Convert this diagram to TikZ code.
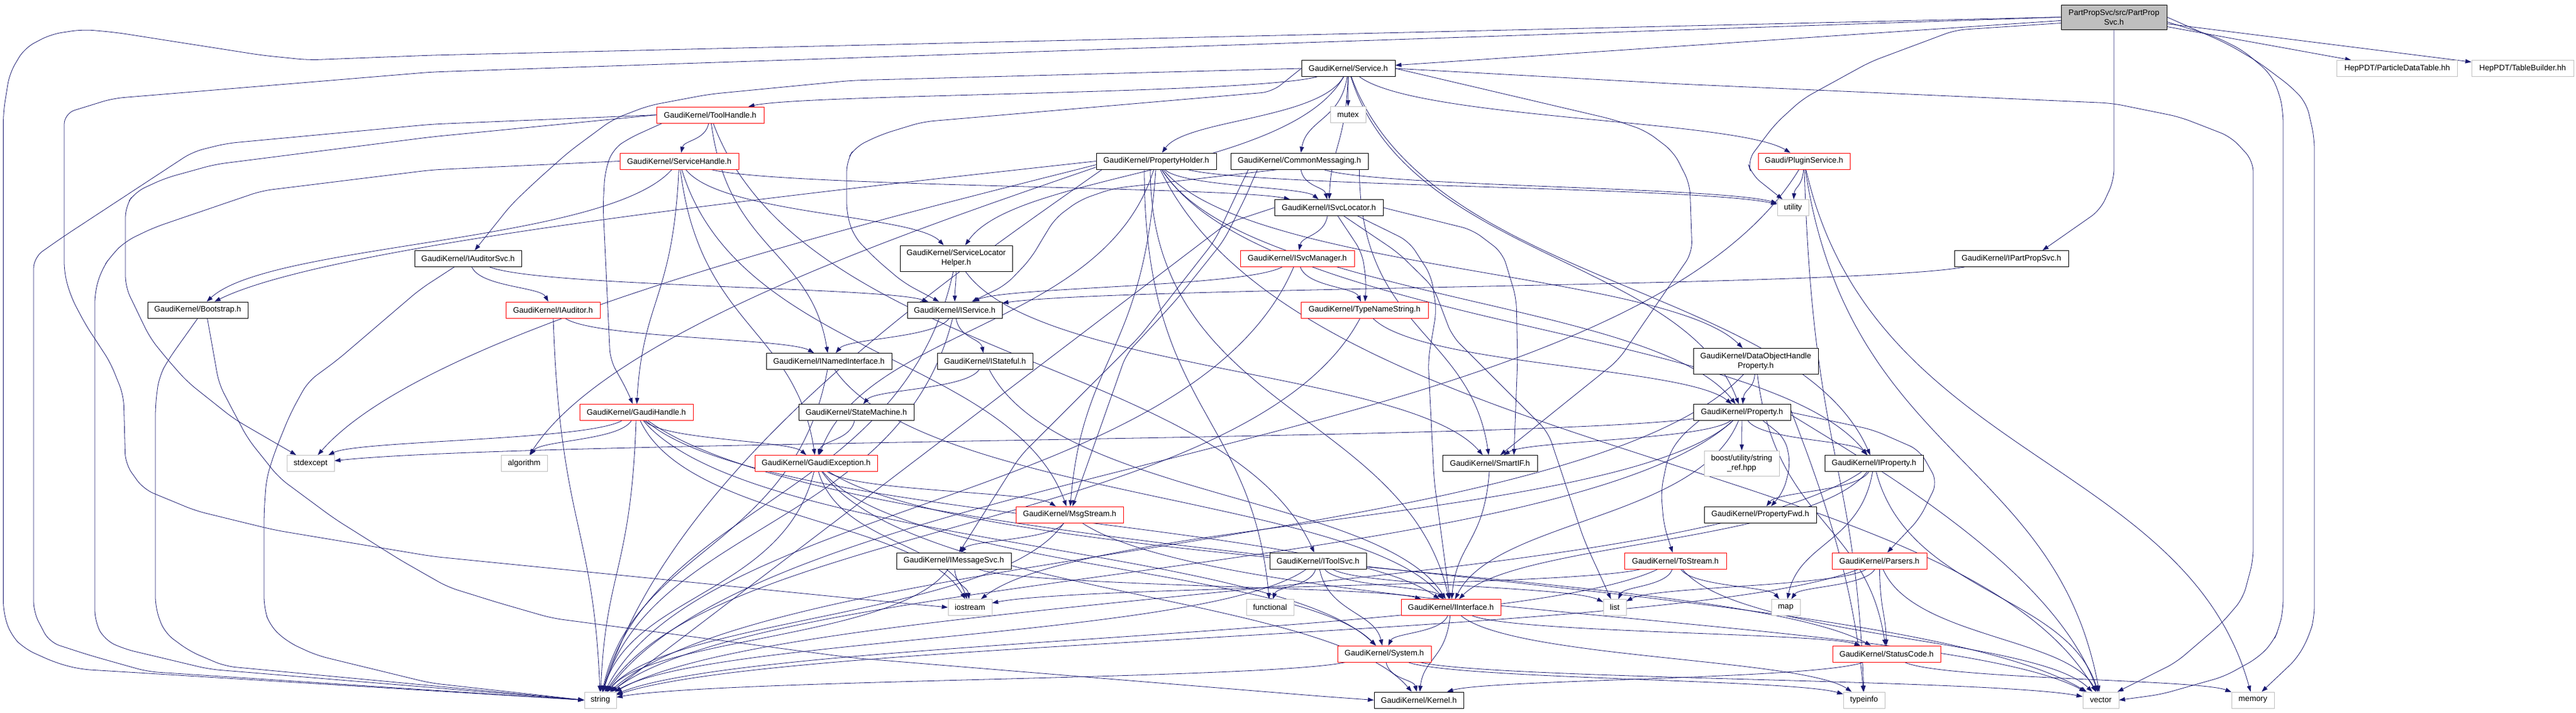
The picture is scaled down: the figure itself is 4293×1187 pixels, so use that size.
\documentclass[tikz,border=0pt]{standalone}
\usepackage{fontspec}
\setmainfont{Liberation Sans}
\usetikzlibrary{arrows.meta,calc}
\definecolor{edgec}{HTML}{191970}
\definecolor{grayb}{HTML}{BFBFBF}
\pgfdeclarelayer{back}
\pgfdeclarelayer{bg}
\pgfsetlayers{back,bg,main}
\tikzset{
  box/.style={draw=black, line width=0.85pt, inner sep=0pt, minimum height=27pt, font=\fontsize{13.2}{16}\selectfont, align=center, fill=white},
  redbox/.style={box, draw=red},
  sysbox/.style={box, draw=grayb},
  rootbox/.style={box, fill=grayb, minimum height=41pt},
  e/.style={color=edgec, line width=0.8pt, -{Triangle[length=10pt,width=7pt]}},
  rte/.style={e, rounded corners=18pt},
}
% curved connector from node #1 to node #2
\newcommand\edge[2]{\draw[e] let \p1=(#1), \p2=(#2) in (#1) .. controls ({\x1+0.15*((\x2)-(\x1))},{\y1+0.55*((\y2)-(\y1))}) and ({\x2-0.15*((\x2)-(\x1))},{\y1+0.55*((\y2)-(\y1))}) .. (#2);}
% curved connector leaving node #1 at an offset #2 from its south anchor
\newcommand\edgeo[3]{\draw[e] let \p1=($(#1.south)+(#2,0)$), \p2=(#3) in (\p1) .. controls ({\x1},{\y1+0.55*((\y2)-(\y1))}) and ({\x2-0.15*((\x2)-(\x1))},{\y1+0.55*((\y2)-(\y1))}) .. (#3);}
% curved connector from a given point on a node border (#1) to node #2
\newcommand\edgep[2]{\draw[e] let \p1=(#1), \p2=(#2) in (\p1) .. controls ({\x1+0.3*((\x2)-(\x1))},{\y1+0.2*((\y2)-(\y1))}) and ({\x2-0.15*((\x2)-(\x1))},{\y1+0.55*((\y2)-(\y1))}) .. (#2);}
\newcommand\sedge[2]{\draw[e] (#1) -- (#2);}
\begin{document}
\begin{tikzpicture}[x=1pt,y=-1pt]
\begin{pgfonlayer}{back}
\fill[white] (0,0) rectangle (4293,1187);
\end{pgfonlayer}
\useasboundingbox (0,0) rectangle (4293,1187);
% nodes
\node[rootbox, minimum width=176pt] (root) at (3523,28.5) {PartPropSvc/src/PartProp\\Svc.h};
\node[sysbox, minimum width=201pt] (pdt) at (3995,114) {HepPDT/ParticleDataTable.hh};
\node[sysbox, minimum width=170pt] (tb) at (4204,114) {HepPDT/TableBuilder.hh};
\node[box, minimum width=156pt] (service) at (2247,114) {GaudiKernel/Service.h};
\node[sysbox, minimum width=59pt] (mutex) at (2246.5,191) {mutex};
\node[redbox, minimum width=179pt] (toolh) at (1183.5,191.5) {GaudiKernel/ToolHandle.h};
\node[redbox, minimum width=198pt] (svch) at (1132,268.5) {GaudiKernel/ServiceHandle.h};
\node[box, minimum width=200pt] (propholder) at (1927,268.5) {GaudiKernel/PropertyHolder.h};
\node[box, minimum width=229pt] (commsg) at (2165.5,268.5) {GaudiKernel/CommonMessaging.h};
\node[redbox, minimum width=153pt] (plugin) at (3006.5,268.5) {Gaudi/PluginService.h};
\node[sysbox, minimum width=52pt] (utility) at (2988,346) {utility};
\node[box, minimum width=181pt] (isvcloc) at (2214.5,346) {GaudiKernel/ISvcLocator.h};
\node[box, minimum width=178pt] (iauditsvc) at (780,431) {GaudiKernel/IAuditorSvc.h};
\node[box, minimum width=167pt] (bootstrap) at (329.5,516.5) {GaudiKernel/Bootstrap.h};
\node[redbox, minimum width=157pt] (iauditor) at (921.5,516.5) {GaudiKernel/IAuditor.h};
\node[box, minimum width=187pt, minimum height=43pt] (slh) at (1593.5,430.5) {GaudiKernel/ServiceLocator\\Helper.h};
\node[box, minimum width=158pt] (iservice) at (1591,516.5) {GaudiKernel/IService.h};
\node[box, minimum width=209pt] (inamed) at (1381.5,602) {GaudiKernel/INamedInterface.h};
\node[box, minimum width=159pt] (istateful) at (1641.5,602) {GaudiKernel/IStateful.h};
\node[box, minimum width=190pt] (ipartprop) at (3352,431) {GaudiKernel/IPartPropSvc.h};
\node[redbox, minimum width=190pt] (isvcmgr) at (2162,431) {GaudiKernel/ISvcManager.h};
\node[redbox, minimum width=212pt] (typename) at (2274,516.5) {GaudiKernel/TypeNameString.h};
\node[box, minimum width=208pt, minimum height=43pt] (dohp) at (2926,601.75) {GaudiKernel/DataObjectHandle\\Property.h};
\node[redbox, minimum width=189pt] (gaudihandle) at (1060.5,687) {GaudiKernel/GaudiHandle.h};
\node[box, minimum width=192pt] (statemachine) at (1427,687) {GaudiKernel/StateMachine.h};
\node[box, minimum width=162pt] (property) at (2903,687) {GaudiKernel/Property.h};
\node[sysbox, minimum width=77pt] (algorithm) at (873.5,772) {algorithm};
\node[sysbox, minimum width=79pt] (stdexcept) at (517.5,772) {stdexcept};
\node[redbox, minimum width=204pt] (gaudiexc) at (1360,772) {GaudiKernel/GaudiException.h};
\node[box, minimum width=158pt] (smartif) at (2483,772) {GaudiKernel/SmartIF.h};
\node[sysbox, minimum width=125pt, minimum height=42pt] (boost) at (2902.5,772) {boost/utility/string\\\_ref.hpp};
\node[box, minimum width=164pt] (iproperty) at (3123,772) {GaudiKernel/IProperty.h};
\node[redbox, minimum width=179pt] (msgstream) at (1782.5,857.5) {GaudiKernel/MsgStream.h};
\node[box, minimum width=187pt] (propfwd) at (2933.5,857.5) {GaudiKernel/PropertyFwd.h};
\node[box, minimum width=191pt] (imsgsvc) at (1589.5,934.5) {GaudiKernel/IMessageSvc.h};
\node[box, minimum width=161pt] (itoolsvc) at (2196.5,934.5) {GaudiKernel/IToolSvc.h};
\node[redbox, minimum width=170pt] (tostream) at (2792,934.5) {GaudiKernel/ToStream.h};
\node[redbox, minimum width=158pt] (parsers) at (3132,934.5) {GaudiKernel/Parsers.h};
\node[sysbox, minimum width=73pt] (iostream) at (1616.5,1012) {iostream};
\node[sysbox, minimum width=79pt] (functional) at (2116.5,1012) {functional};
\node[redbox, minimum width=166pt] (iinterface) at (2418,1012) {GaudiKernel/IInterface.h};
\node[sysbox, minimum width=38pt] (list) at (2691,1012) {list};
\node[sysbox, minimum width=48pt] (map) at (2976,1012) {map};
\node[redbox, minimum width=156pt] (system) at (2307,1089.5) {GaudiKernel/System.h};
\node[redbox, minimum width=180pt] (statuscode) at (3144,1089.5) {GaudiKernel/StatusCode.h};
\node[sysbox, minimum width=53pt] (string) at (1000.5,1166.5) {string};
\node[box, minimum width=149pt] (kernel) at (2364.5,1166.5) {GaudiKernel/Kernel.h};
\node[sysbox, minimum width=69pt] (typeinfo) at (3106.5,1166.5) {typeinfo};
\node[sysbox, minimum width=60pt] (vector) at (3501,1166.5) {vector};
\node[sysbox, minimum width=71pt] (memory) at (3754.5,1166.5) {memory};

\begin{pgfonlayer}{bg}
% root
\sedge{root}{service}
\sedge{root}{pdt}
\sedge{root}{tb}
\draw[rte] (root.west) -- (720,92) -- (514,100) -- (436,92) -- (193,54) -- (138,49) -- (85,57) -- (41,80) -- (16,122) -- (5.5,187) -- (5.5,1020) -- (18,1058) -- (41,1081) -- (92,1104) -- (133,1115) -- (string.west);
\draw[rte] (root.west) -- (720,120) -- (188,164) -- (107,189) -- (107,455) -- (118,494) -- (142,540) -- (184,604) -- (206,659) -- (209,773) -- (239,815) -- (326,851) -- (457,883) -- (720,927) -- (1420,997) -- (iostream.west);
\draw[rte] (root.south) -- (3523,300) -- (3500,350) -- ($(ipartprop.north)+(52,0)$);
\draw[rte] ($(root.west)+(0,10)$) -- (3259,50) -- (3117,103) -- (3004,165) -- (2958,207) -- (2912,268) -- (2919,291) -- (utility);
\draw[rte] ($(root.east)+(0,8)$) -- (3692,61) -- (3738,84) -- (3783,122) -- (3798,153) -- (3805,187) -- (3805,1016) -- (3798,1047) -- (3788,1070) -- (3763,1096) -- (3707,1127) -- (3601,1157) -- (vector.east);
\draw[rte] (root.east) -- (3712,73) -- (3763,103) -- (3819,145) -- (3844,172) -- (3857,230) -- (3857,1028) -- (3849,1058) -- (3829,1096) -- (memory);
% service
\edge{service}{toolh}
\sedge{service}{mutex}
\edge{service}{commsg}
\edge{service}{isvcloc}
\edge{service}{propholder}
\edge{service}{plugin}
\draw[rte] (service.west) -- (1420,134) -- (1182,157) -- (1081,176) -- (1021,199) -- (948,253) -- (893,302) -- (852,341) -- (iauditsvc);
\edge{service}{slh}
\draw[rte] (service.west) -- (2120,153) -- (1538,203) -- (1469,224) -- (1425,245) -- (1411,268) -- (1411,356) -- (1423,394) -- (1460,432) -- (1506,471) -- (iservice);
\edge{service}{iproperty}
\edge{service}{property}
\draw[rte] (service.east) -- (2688,199) -- (2743,218) -- (2789,253) -- (2816,306) -- (2820,421) -- (2697,600) -- (smartif);
\draw[rte] (service.east) -- (2800,140) -- (3520,172) -- (3633,195) -- (3718,228) -- (3755,268) -- (3755,933) -- (3738,997) -- (3702,1039) -- (3626,1104) -- (vector);
% toolhandle
\edge{toolh}{svch}
\draw[rte] ($(toolh.south)+(-80,0)$) -- (1049,230) -- (1021,249) -- (1008,287) -- (1005,344) -- (1017,600) -- (1045,650) -- ($(gaudihandle.north)+(-6,0)$);
\edge{toolh}{inamed}
\edge{toolh}{itoolsvc}
\draw[rte] (toolh.west) -- (720,207) -- (377,239) -- (321,253) -- (106,394) -- (56,429) -- (56,1020) -- (82,1070) -- (150,1092) -- (246,1119) -- (string.west);
\draw[rte] (toolh.west) -- (720,228) -- (358,274) -- (275,297) -- (225,320) -- (209,344) -- (209,478) -- (250,563) -- (280,600) -- (312,636) -- (390,698) -- (stdexcept);
% servicehandle
\edge{svch}{gaudihandle}
\edge{svch}{gaudiexc}
\edge{svch}{isvcloc}
\edge{svch}{slh}
\edge{svch}{msgstream}
\edge{svch}{bootstrap}
\draw[rte] (svch.west) -- (720,283) -- (436,318) -- (257,379) -- (209,402) -- (186,425) -- (170,448) -- (158,486) -- (158,1035) -- (174,1066) -- (206,1081) -- (349,1115) -- (string.west);
% propertyholder
\edgep{propholder.west}{bootstrap}
\edge{propholder}{utility}
\edgep{$(propholder.west)+(0,6)$}{stdexcept}
\edgep{$(propholder.west)+(0,10)$}{algorithm}
\edgeo{propholder}{-20}{functional}
\edge{propholder}{vector}
\edgep{$(propholder.south west)+(10,0)$}{string}
\edge{propholder}{dohp}
\edge{propholder}{gaudiexc}
\edgeo{propholder}{-10}{iinterface}
\edge{propholder}{iproperty}
\edge{propholder}{isvcloc}
\edge{propholder}{msgstream}
\edge{propholder}{property}
% commonmessaging
\edge{commsg}{isvcloc}
\draw[rte] ($(commsg.south)+(-35,0)$) -- (1855,314) -- (1800,333) -- (1758,364) -- (1717,432) -- (1676,475) -- (iservice);
\draw[rte] ($(commsg.south)+(-85,0)$) -- (2060,325) -- (2025,400) -- (1900,560) -- (1700,760) -- (imsgsvc);
\draw[rte] ($(commsg.south)+(-70,0)$) -- (2075,330) -- (2040,400) -- (1960,500) -- (1877,590) -- (msgstream);
\edgeo{commsg}{100}{smartif}
\edge{commsg}{utility}
% plugin
\edge{plugin}{utility}
\edge{plugin}{string}
\edge{plugin}{typeinfo}
\edge{plugin}{vector}
\edge{plugin}{memory}
% isvclocator
\edge{isvcloc}{isvcmgr}
\draw[rte] ($(isvcloc.south)+(15,0)$) -- (2270,421) -- (2277,470) -- (typename);
\draw[rte] (isvcloc.east) -- (2454,383) -- (2504,421) -- (2527,497) -- (2529,600) -- ($(smartif.north)+(40,0)$);
\draw[rte] ($(isvcloc.south)+(48,0)$) -- (2348,402) -- (2385,459) -- (2394,517) -- (2380,600) -- (2390,800) -- (iinterface);
\draw[rte] ($(isvcloc.south)+(25,0)$) -- (2330,421) -- (2389,479) -- (2420,560) -- (2580,720) -- (2640,900) -- (list);
\draw[rte] (isvcloc.west) -- (2045,372) -- (string);
% iauditorsvc
\edge{iauditsvc}{iauditor}
\edge{iauditsvc}{iservice}
\draw[rte] ($(iauditsvc.south)+(-23,0)$) -- (700,482) -- (562,600) -- (513,636) -- (484,689) -- (459,750) -- (444,797) -- (440,853) -- (440,1013) -- (450,1043) -- (480,1070) -- (528,1092) -- (717,1138) -- (string.west);
\edge{iauditor}{inamed}
\edge{iauditor}{string}
% slh
\edge{slh}{iservice}
\edge{slh}{smartif}
\edge{slh}{string}
% isvcmgr
\edge{isvcmgr}{iservice}
\edge{isvcmgr}{typename}
\edge{isvcmgr}{string}
\edge{ipartprop}{iservice}
% iservice
\edge{iservice}{inamed}
\edge{iservice}{istateful}
\edge{iservice}{string}
\edge{inamed}{iinterface}
\edge{inamed}{string}
\edge{istateful}{iinterface}
\edge{istateful}{statemachine}
\edge{statemachine}{gaudiexc}
\edge{typename}{string}
\edge{typename}{property}
\edge{dohp}{property}
\edge{dohp}{string}
\edge{dohp}{statuscode}
% gaudihandle
\edge{gaudihandle}{algorithm}
\edge{gaudihandle}{string}
\edge{gaudihandle}{stdexcept}
\edge{gaudihandle}{gaudiexc}
\edge{gaudihandle}{iinterface}
\edge{gaudihandle}{system}
\edge{gaudihandle}{iostream}
\edge{gaudihandle}{vector}
% gaudiexception
\edge{gaudiexc}{string}
\edge{gaudiexc}{msgstream}
\edge{gaudiexc}{system}
\edge{gaudiexc}{kernel}
\edge{gaudiexc}{statuscode}
\edge{gaudiexc}{iostream}
% property
\sedge{property}{boost}
\edge{property}{iproperty}
\draw[rte] ($(property.south)+(35,0)$) -- (2975,730) -- (2984,773) -- (2972,820) -- ($(propfwd.north)+(18,0)$);
\draw[rte] ($(property.south west)+(10,0)$) -- (2800,728) -- (2780,760) -- (2768,818) -- (2773,876) -- (tostream);
\draw[rte] (property.east) -- (3121,716) -- (3199,750) -- (3229,803) -- (3199,864) -- (parsers);
\edge{property}{smartif}
\edge{property}{stdexcept}
\edge{property}{string}
\edgep{$(property.east)+(0,4)$}{vector}
\edgep{$(property.east)+(0,-4)$}{typeinfo}
\edge{property}{iostream}
\edge{property}{iinterface}
% iproperty
\edge{iproperty}{propfwd}
\edge{iproperty}{iinterface}
\edge{iproperty}{string}
\edge{iproperty}{vector}
\edge{iproperty}{map}
% msgstream
\edge{msgstream}{imsgsvc}
\edge{msgstream}{string}
\edge{msgstream}{vector}
\edge{imsgsvc}{iostream}
\edge{imsgsvc}{iinterface}
\edge{imsgsvc}{string}
% itoolsvc
\edge{itoolsvc}{functional}
\edge{itoolsvc}{string}
\edge{itoolsvc}{system}
\edge{itoolsvc}{iinterface}
\edge{itoolsvc}{list}
% tostream
\edge{tostream}{list}
\edge{tostream}{map}
\edge{tostream}{string}
\edge{tostream}{vector}
\edge{tostream}{iostream}
% parsers
\edge{parsers}{map}
\edge{parsers}{string}
\edge{parsers}{statuscode}
\edge{parsers}{vector}
\edge{parsers}{list}
% iinterface
\edge{iinterface}{system}
\edge{iinterface}{kernel}
\edge{iinterface}{statuscode}
\edge{iinterface}{typeinfo}
% system
\edge{system}{kernel}
\edge{system}{string}
\edge{system}{typeinfo}
\edge{system}{vector}
\edge{statuscode}{kernel}
\edge{statuscode}{memory}
\edge{smartif}{iinterface}
% bootstrap
\draw[rte] (bootstrap.south) -- (280,600) -- (265,628) -- (259,674) -- (259,1013) -- (274,1054) -- (316,1085) -- (375,1110) -- (string.west);
\draw[rte] ($(bootstrap.south)+(16,0)$) -- (365,640) -- (413,731) -- (465,796) -- (557,864) -- (667,933) -- (746,978) -- (833,1005) -- (920,1030) -- (1420,1096) -- (2200,1160) -- (kernel.west);
\end{pgfonlayer}
\end{tikzpicture}
\end{document}
